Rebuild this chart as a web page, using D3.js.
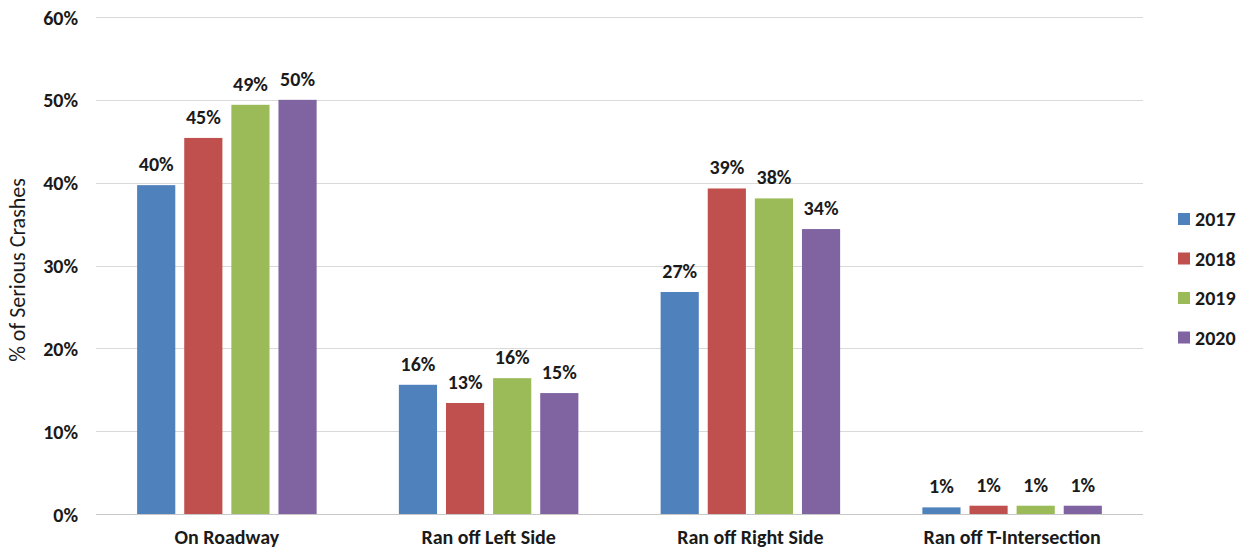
<!DOCTYPE html>
<html>
<head>
<meta charset="utf-8">
<script src="https://cdn.jsdelivr.net/npm/d3@7"></script>
<style>
  html, body { margin: 0; padding: 0; background: #ffffff; }
  svg { display: block; }
  text { font-family: Carlito, "Liberation Sans", Arial, sans-serif; fill: #1a1a1a; }
</style>
</head>
<body>
<svg id="chart" width="1247" height="550"></svg>
<script>
// Share of serious crashes by crash location, 2017–2020
const categories = ["On Roadway", "Ran off Left Side", "Ran off Right Side", "Ran off T-Intersection"];
const years = ["2017", "2018", "2019", "2020"];
const values2017 = [0.397, 0.156, 0.268, 0.008];
const values2018 = [0.454, 0.134, 0.393, 0.010];
const values2019 = [0.494, 0.164, 0.381, 0.010];
const values2020 = [0.500, 0.146, 0.344, 0.010];
const yTicks = [0, 0.1, 0.2, 0.3, 0.4, 0.5, 0.6];
const colors = ["#4F81BD", "#C0504D", "#9BBB59", "#8064A2"];

const seriesValues = [values2017, values2018, values2019, values2020];
const rows = categories.map((c, i) => ({
  category: c,
  bars: years.map((y, j) => ({ year: y, value: seriesValues[j][i], color: colors[j] }))
}));

const svg = d3.select("#chart");
const margin = { left: 96, right: 104, top: 17, bottom: 36 };
const W = 1247, H = 550;
const FONT = 'Carlito, "Liberation Sans", Arial, sans-serif';

const x0 = d3.scaleBand()
  .domain(categories)
  .range([margin.left, W - margin.right])
  .paddingInner(0.28)
  .paddingOuter(0.14);

const x1 = d3.scaleBand()
  .domain(years)
  .range([0, x0.bandwidth()])
  .paddingInner(0.19)
  .paddingOuter(0.095);

const y = d3.scaleLinear()
  .domain([0, 0.6])
  .range([H - margin.bottom, margin.top]);

const pct = d3.format(".0%");

// horizontal gridlines
svg.append("g")
  .selectAll("line")
  .data(yTicks)
  .join("line")
  .attr("x1", margin.left)
  .attr("x2", W - margin.right)
  .attr("y1", d => Math.round(y(d)) + 0.5)
  .attr("y2", d => Math.round(y(d)) + 0.5)
  .attr("stroke", d => d === 0 ? "#c8c8c8" : "#d9d9d9")
  .attr("stroke-width", 1);

// y axis labels
const yAxis = d3.axisLeft(y).tickValues(yTicks).tickFormat(pct).tickSize(0).tickPadding(0);
const gy = svg.append("g")
  .attr("transform", `translate(${margin.left - 18},0)`)
  .call(yAxis);
gy.select(".domain").remove();
gy.selectAll("text")
  .attr("font-size", 20)
  .attr("font-weight", "bold")
  .attr("font-family", FONT)
  .attr("fill", "#1a1a1a")
  .attr("dy", "0.35em");

// y axis title
svg.append("text")
  .attr("transform", `translate(25,270) rotate(-90)`)
  .attr("text-anchor", "middle")
  .attr("font-size", 22)
  .text("% of Serious Crashes");

// category labels
const xAxis = d3.axisBottom(x0).tickSize(0).tickPadding(0);
const gx = svg.append("g")
  .attr("transform", `translate(0,${H - margin.bottom + 16})`)
  .call(xAxis);
gx.select(".domain").remove();
gx.selectAll("text")
  .attr("font-size", 20)
  .attr("font-weight", "bold")
  .attr("font-family", FONT)
  .attr("fill", "#1a1a1a");

// bars and value labels
const groups = svg.append("g")
  .selectAll("g")
  .data(rows)
  .join("g")
  .attr("transform", d => `translate(${x0(d.category)},0)`);

groups.selectAll("rect")
  .data(d => d.bars)
  .join("rect")
  .attr("x", d => x1(d.year))
  .attr("width", x1.bandwidth())
  .attr("y", d => y(d.value))
  .attr("height", d => y(0) - y(d.value))
  .attr("fill", d => d.color);

groups.selectAll("text.val")
  .data(d => d.bars)
  .join("text")
  .attr("class", "val")
  .attr("x", d => x1(d.year) + x1.bandwidth() / 2)
  .attr("y", d => y(d.value) - 14)
  .attr("text-anchor", "middle")
  .attr("font-size", 20)
  .attr("font-weight", "bold")
  .text(d => pct(d.value));

// legend
const legend = svg.append("g")
  .attr("transform", "translate(1178,219)");
const li = legend.selectAll("g")
  .data(years)
  .join("g")
  .attr("transform", (d, i) => `translate(0,${i * 39.5})`);
li.append("rect")
  .attr("x", 0).attr("y", -6)
  .attr("width", 12).attr("height", 12)
  .attr("fill", (d, i) => colors[i]);
li.append("text")
  .attr("x", 17)
  .attr("dy", "0.36em")
  .attr("font-size", 20)
  .attr("font-weight", "bold")
  .text(d => d);
</script>
</body>
</html>
